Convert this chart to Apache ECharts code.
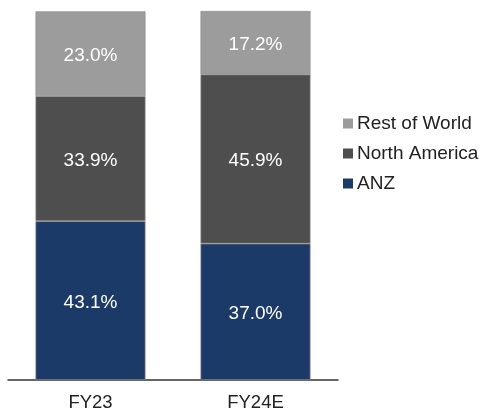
<!DOCTYPE html>
<html>
<head>
<meta charset="utf-8">
<script src="https://cdn.jsdelivr.net/npm/echarts@6/dist/echarts.min.js"></script>
<style>
  html, body { margin: 0; padding: 0; background: #ffffff; }
  #chart { width: 482px; height: 412px; }
</style>
</head>
<body>
<div id="chart"></div>
<script>
// Revenue mix by region, % of total
const categories = ['FY23', 'FY24E'];
const anz = [43.1, 37.0];
const northAmerica = [33.9, 45.9];
const restOfWorld = [23.0, 17.2];
const legendOrder = ['Rest of World', 'North America', 'ANZ'];

const FONT = '"Liberation Sans", Arial, sans-serif';

function segment(name, data, color) {
  return {
    name: name,
    type: 'bar',
    stack: 'mix',
    data: data,
    barWidth: 110,
    itemStyle: { color: color, borderColor: '#8e8e8e', borderWidth: 0.7 },
    label: {
      show: true,
      position: 'inside',
      offset: [0, 2],
      color: '#ffffff',
      fontFamily: FONT,
      fontSize: 19,
      formatter: p => p.value.toFixed(1) + '%'
    },
    emphasis: { disabled: true }
  };
}

const chart = echarts.init(document.getElementById('chart'), null, { renderer: 'canvas' });
chart.setOption({
  animation: false,
  backgroundColor: '#ffffff',
  grid: { left: 8, right: 144, top: 11, bottom: 32, containLabel: false },
  legend: {
    data: legendOrder,
    orient: 'vertical',
    left: 343,
    top: 114,
    padding: 0,
    icon: 'rect',
    itemWidth: 10,
    itemHeight: 10,
    itemGap: 11,
    itemStyle: { borderWidth: 0 },
    textStyle: { fontFamily: FONT, fontSize: 19, color: '#222222', padding: [0, 0, 0, -1] }
  },
  xAxis: {
    type: 'category',
    data: categories,
    axisLine: { lineStyle: { color: '#333333', width: 1.5 } },
    axisTick: { show: false },
    axisLabel: { fontFamily: FONT, fontSize: 18.5, color: '#222222', margin: 13 }
  },
  yAxis: {
    type: 'value',
    min: 0,
    max: 100.1,
    show: false,
    splitLine: { show: false }
  },
  series: [
    segment('ANZ', anz, '#1b3a67'),
    segment('North America', northAmerica, '#4e4e4e'),
    segment('Rest of World', restOfWorld, '#9c9c9c')
  ]
});
</script>
</body>
</html>
